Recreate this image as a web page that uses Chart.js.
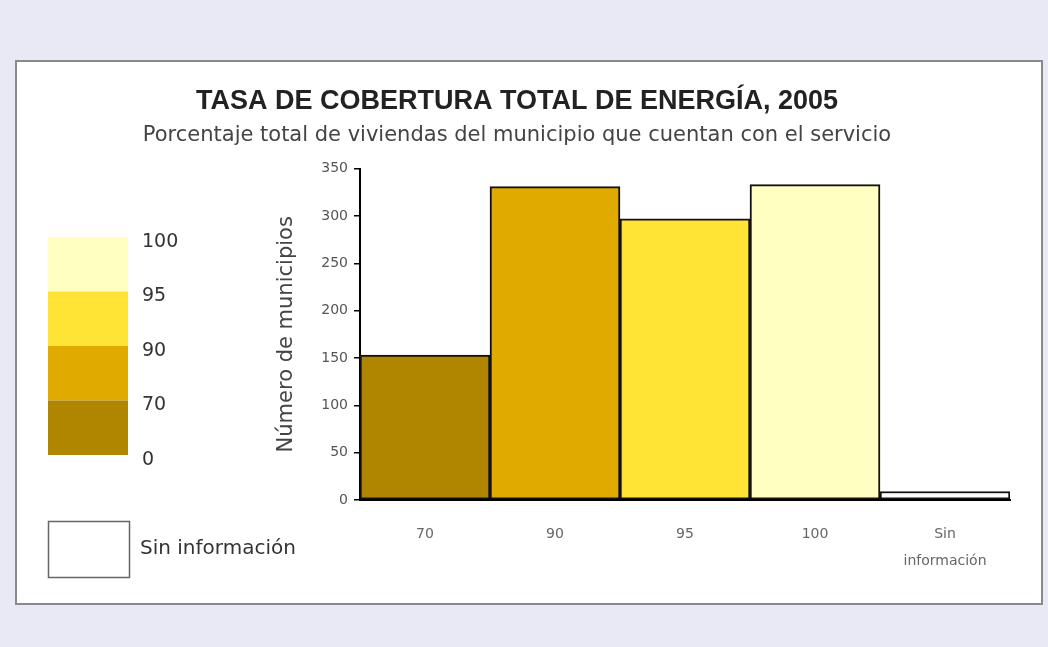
<!DOCTYPE html>
<html lang="es">
<head>
<meta charset="utf-8">
<title>Tasa de cobertura total de energía, 2005</title>
<script src="https://cdn.jsdelivr.net/npm/chart.js"></script>
<style>
    html, body { margin: 0; padding: 0; background: #e9e9f5; }
    #panel { position: absolute; left: 15px; top: 60px; width: 1024px; height: 541px; background: #fff; border: 2px solid #8a8a8a; box-sizing: content-box; }
    #wrap { position: absolute; left: 0; top: 0; width: 1048px; height: 647px; }
</style>
</head>
<body>
<div id="panel"></div>
<div id="wrap"><canvas id="chartEnergia"></canvas></div>
<script>
// datos
const categorias = ['70', '90', '95', '100', ['Sin', 'información']];
const municipios = [153, 331, 297, 333, 9];
const coloresBarras = ['#b08600', '#e0aa00', '#ffe436', '#ffffc2', '#ffffff'];

// leyenda de rangos (de arriba hacia abajo)
const rangosLeyenda = ['100', '95', '90', '70', '0'];
const coloresLeyenda = ['#ffffc2', '#ffe436', '#e0aa00', '#b08600'];
const textoSinInfo = 'Sin información';

const leyendaRangos = {
    id: 'leyendaRangos',
    afterDraw(chart) {
        const ctx = chart.ctx;
        const x = 48, w = 80, top = 237, h = 54.5;
        ctx.save();
        coloresLeyenda.forEach((c, i) => {
            ctx.fillStyle = c;
            ctx.fillRect(x, top + i * h, w, h);
        });
        ctx.fillStyle = '#333';
        ctx.font = '19px "DejaVu Sans"';
        ctx.textBaseline = 'middle';
        ctx.textAlign = 'left';
        rangosLeyenda.forEach((r, i) => {
            ctx.fillText(r, 142, top + i * h + 5);
        });
        // caja sin información
        ctx.strokeStyle = '#666';
        ctx.lineWidth = 1.5;
        ctx.strokeRect(48.5, 521.5, 81, 56);
        ctx.font = '20px "DejaVu Sans"';
        ctx.fillText(textoSinInfo, 140, 549);
        ctx.restore();
    }
};

document.addEventListener('DOMContentLoaded', () => {
    const ctx = document.getElementById('chartEnergia').getContext('2d');
    new Chart(ctx, {
        type: 'bar',
        data: {
            labels: categorias,
            datasets: [{
                label: 'Municipios',
                data: municipios,
                backgroundColor: coloresBarras,
                borderColor: '#111',
                borderWidth: 2,
                borderSkipped: false,
                barPercentage: 1,
                categoryPercentage: 1
            }]
        },
        options: {
            responsive: true,
            maintainAspectRatio: false,
            animation: false,
            layout: { padding: { left: 24, right: 38, top: 50, bottom: 0 } },
            plugins: {
                legend: { display: false },
                tooltip: { enabled: false },
                title: {
                    display: true,
                    text: 'TASA DE COBERTURA TOTAL DE ENERGÍA, 2005',
                    color: '#222',
                    font: { family: '"Liberation Sans", Arial', size: 27, weight: 'bold' },
                    padding: { top: 35, bottom: 0 }
                },
                subtitle: {
                    display: true,
                    text: 'Porcentaje total de viviendas del municipio que cuentan con el servicio',
                    color: '#444',
                    font: { family: '"DejaVu Sans"', size: 21 },
                    padding: { top: 6, bottom: 20 }
                }
            },
            scales: {
                x: {
                    grid: { display: false, drawTicks: false },
                    border: { display: true, color: '#000', width: 2 },
                    ticks: {
                        color: '#666',
                        font: { family: '"DejaVu Sans"', size: 14, lineHeight: 1.93 },
                        padding: 21,
                        maxRotation: 0
                    },
                    afterFit(scale) { scale.height = 147; }
                },
                y: {
                    min: 0,
                    max: 350,
                    ticks: {
                        stepSize: 50,
                        color: '#555',
                        font: { family: '"DejaVu Sans"', size: 14 },
                        padding: 6
                    },
                    grid: { drawOnChartArea: false, drawTicks: true, tickLength: 6, color: '#000', lineWidth: 1.5 },
                    border: { display: true, color: '#000', width: 2 },
                    title: {
                        display: true,
                        text: 'Número de municipios',
                        color: '#444',
                        font: { family: '"DejaVu Sans"', size: 21 },
                        padding: { top: 250, bottom: 0 }
                    },
                    afterFit(scale) { scale.width = 336; }
                }
            }
        },
        plugins: [leyendaRangos]
    });
});
</script>
</body>
</html>
